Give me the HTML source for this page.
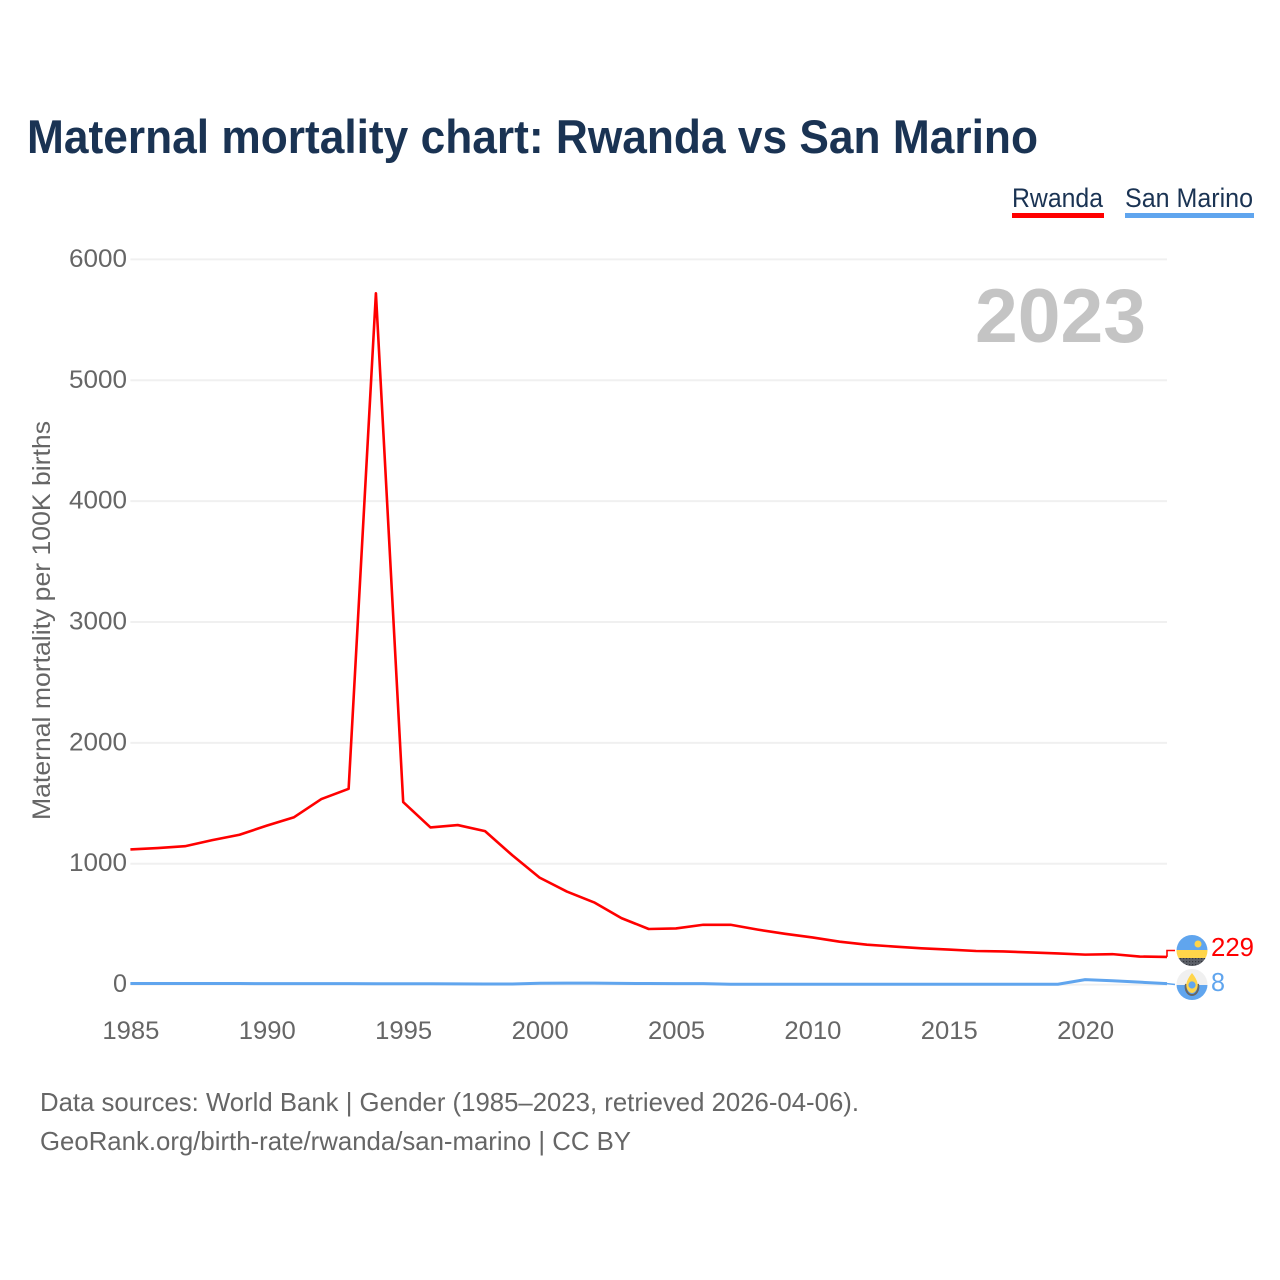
<!DOCTYPE html>
<html lang="en">
<head>
<meta charset="utf-8">
<title>Maternal mortality chart: Rwanda vs San Marino</title>
<style>
html,body{margin:0;padding:0;background:#fff;width:1280px;height:1280px;overflow:hidden}
svg{display:block}
text{font-family:"Liberation Sans",sans-serif}
</style>
</head>
<body>
<svg id="chart" xmlns="http://www.w3.org/2000/svg" width="1280" height="1280" viewBox="0 0 1280 1280">
  <rect width="1280" height="1280" fill="#fff"/>
  <text x="27" y="153" font-size="47" font-weight="700" fill="#1a3353" textLength="1011" lengthAdjust="spacingAndGlyphs">Maternal mortality chart: Rwanda vs San Marino</text>

  <g>
    <text x="1012" y="207" font-size="27" fill="#1a3353" textLength="91" lengthAdjust="spacingAndGlyphs">Rwanda</text>
    <rect x="1012" y="213" width="92" height="5" fill="#ff0000"/>
  </g>
  <g>
    <text x="1125" y="207" font-size="27" fill="#1a3353" textLength="128" lengthAdjust="spacingAndGlyphs">San Marino</text>
    <rect x="1125" y="213" width="129" height="5" fill="#60a5ee"/>
  </g>

  <g id="grid"></g>
  <g id="yticks"></g>
  <g id="xticks"></g>

  <text x="975" y="342" font-size="76" font-weight="700" fill="#c4c4c4" textLength="171" lengthAdjust="spacingAndGlyphs">2023</text>

  <text transform="translate(50 820) rotate(-90)" font-size="25" fill="#666" textLength="399" lengthAdjust="spacingAndGlyphs">Maternal mortality per 100K births</text>

  <path id="line-san-marino" fill="none" stroke="#60a5ee" stroke-width="3" stroke-linejoin="round"/>
  <path id="line-rwanda" fill="none" stroke="#ff0000" stroke-width="2.6" stroke-linejoin="round"/>
  <path id="connector-rwanda" fill="none" stroke="#ff0000" stroke-width="1.6"/>
  <path id="connector-san-marino" fill="none" stroke="#60a5ee" stroke-width="1.6"/>

  <defs>
    <clipPath id="clip-rw"><circle cx="1192" cy="950.5" r="15.5"/></clipPath>
    <clipPath id="clip-sm"><circle cx="1192" cy="984.5" r="15.5"/></clipPath>
    <pattern id="dots" width="3" height="3" patternUnits="userSpaceOnUse"><rect width="3" height="3" fill="#5c6068"/><rect x="1" y="1" width="1.2" height="1.2" fill="#33363c"/></pattern>
  </defs>

  <g clip-path="url(#clip-sm)">
    <rect x="1176" y="969" width="32" height="16" fill="#f0f0f0"/>
    <rect x="1176" y="985" width="32" height="16" fill="#60a5ee"/>
    <path d="M1186 984 C1184.500 990 1188 995 1192 995 C1196 995 1199.500 990 1198 984" fill="none" stroke="#666" stroke-width="2"/>
    <path d="M1192 973 C1196 978 1198.500 983 1197.500 987 C1196.500 991 1194 993 1192 993 C1190 993 1187.500 991 1186.500 987 C1185.500 983 1188 978 1192 973Z" fill="#ffd54a"/>
    <circle cx="1192" cy="985" r="3.600" fill="#60a5ee"/>
  </g>
  <g clip-path="url(#clip-rw)">
    <rect x="1176" y="935" width="32" height="15" fill="#60a5ee"/>
    <rect x="1176" y="950" width="32" height="8" fill="#ffd54a"/>
    <rect x="1176" y="958" width="32" height="9" fill="url(#dots)"/>
    <circle cx="1198" cy="944" r="3.500" fill="#ffd54a"/>
  </g>

  <text id="value-rwanda" x="1211" y="956" font-size="26" fill="#ff0000" textLength="43" lengthAdjust="spacingAndGlyphs"></text>
  <text id="value-san-marino" x="1211" y="991" font-size="26" fill="#60a5ee" textLength="14" lengthAdjust="spacingAndGlyphs"></text>

  <text x="40" y="1111" font-size="26" fill="#666" textLength="819" lengthAdjust="spacingAndGlyphs">Data sources: World Bank | Gender (1985–2023, retrieved 2026-04-06).</text>
  <text x="40" y="1150" font-size="26" fill="#666" textLength="591" lengthAdjust="spacingAndGlyphs">GeoRank.org/birth-rate/rwanda/san-marino | CC BY</text>
</svg>
<script>
const years = [1985,1986,1987,1988,1989,1990,1991,1992,1993,1994,1995,1996,1997,1998,1999,2000,2001,2002,2003,2004,2005,2006,2007,2008,2009,2010,2011,2012,2013,2014,2015,2016,2017,2018,2019,2020,2021,2022,2023];
const rwanda = [1118,1130,1145,1195,1240,1315,1385,1535,1620,5720,1510,1300,1320,1270,1070,885,770,680,550,460,465,495,495,455,420,390,355,330,315,300,290,278,274,266,258,248,252,232,229];
const sanMarino = [9,9,9,9,9,8,8,8,8,7,7,7,6,5,5,11,12,12,10,9,8,8,3,3,3,3,3,3,3,3,3,3,3,3,3,41,32,20,8];
const yTickValues = [0,1000,2000,3000,4000,5000,6000];
const xTickValues = [1985,1990,1995,2000,2005,2010,2015,2020];

const plotLeft = 130.4, plotRight = 1167, plotBottom = 984.6, plotTop = 259.4;
const NS = 'http://www.w3.org/2000/svg';
const xMin = years[0], xMax = years[years.length - 1], yMax = 6000;
function xScale(v){ return plotLeft + (v - xMin) / (xMax - xMin) * (plotRight - plotLeft); }
function yScale(v){ return plotBottom - v / yMax * (plotBottom - plotTop); }
function linePath(vals){
  return vals.map(function(v, i){ return (i ? 'L' : 'M') + xScale(years[i]).toFixed(2) + ' ' + yScale(v).toFixed(2); }).join(' ');
}

const grid = document.getElementById('grid');
const yticks = document.getElementById('yticks');
const xticks = document.getElementById('xticks');

yTickValues.forEach(function(v){
  const ln = document.createElementNS(NS, 'line');
  
  
  ln.setAttribute('x1', plotLeft);
  ln.setAttribute('x2', plotRight);
  ln.setAttribute('y1', yScale(v));
  ln.setAttribute('y2', yScale(v));
  ln.setAttribute('stroke', '#f0f0f0');
  ln.setAttribute('stroke-width', '2');
  grid.appendChild(ln);
  const t = document.createElementNS(NS, 'text');
  
  
  t.setAttribute('x', v === 0 ? 113 : 69);
  t.setAttribute('y', yScale(v) + 7.5);
  t.setAttribute('font-size', '25');
  t.setAttribute('fill', '#666');
  t.setAttribute('textLength', v === 0 ? 14 : 58);
  t.setAttribute('lengthAdjust', 'spacingAndGlyphs');
  t.textContent = String(v);
  yticks.appendChild(t);
});

xTickValues.forEach(function(v){
  const t = document.createElementNS(NS, 'text');
  
  
  t.setAttribute('x', xScale(v) - 28);
  t.setAttribute('y', 1039);
  t.setAttribute('font-size', '25');
  t.setAttribute('fill', '#666');
  t.setAttribute('textLength', '57');
  t.setAttribute('lengthAdjust', 'spacingAndGlyphs');
  t.textContent = String(v);
  xticks.appendChild(t);
});

document.getElementById('line-rwanda').setAttribute('d', linePath(rwanda));
document.getElementById('line-san-marino').setAttribute('d', linePath(sanMarino));

const lastR = rwanda[rwanda.length - 1], lastS = sanMarino[sanMarino.length - 1];
document.getElementById('connector-rwanda').setAttribute('d', 'M' + plotRight + ' ' + yScale(lastR) + ' V950.5 H1175');
document.getElementById('connector-san-marino').setAttribute('d', 'M' + plotRight + ' ' + yScale(lastS) + ' L1175 984.5');
document.getElementById('value-rwanda').textContent = String(lastR);
document.getElementById('value-san-marino').textContent = String(lastS);
</script>
</body>
</html>
